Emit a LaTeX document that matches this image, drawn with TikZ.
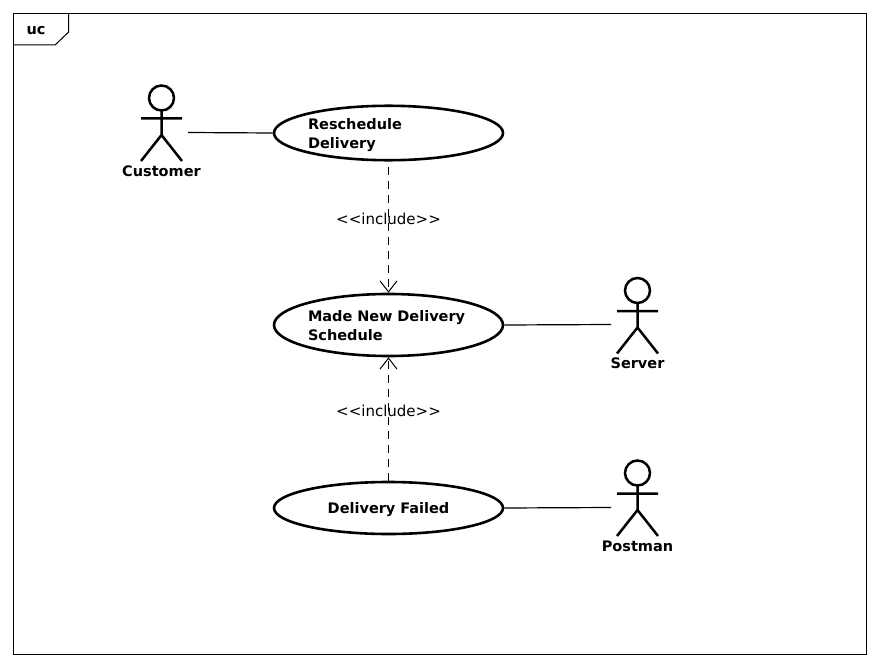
\documentclass[tikz,border=0pt]{standalone}
\usepackage{fontspec}
\setmainfont{DejaVu Sans}
\usetikzlibrary{shapes, arrows.meta, positioning}

\tikzset{
  usecase/.style={draw, ellipse, line width=2.6pt, inner sep=0pt, minimum width=229pt, text width=161pt, align=left, font=\fontsize{14.5}{19}\selectfont\bfseries, execute at begin node=\rule{0pt}{15.5pt}, execute at end node=\rule[-4pt]{0pt}{4pt}},
  actorlabel/.style={inner sep=0pt, font=\fontsize{14.5}{17}\selectfont\bfseries},
  includeline/.style={draw, line width=1pt, dash pattern=on 8pt off 6pt, -{Straight Barb[length=11pt,width=17pt,line width=1pt]}},
  assoc/.style={draw, line width=1.2pt},
  includelabel/.style={inner sep=0pt, font=\fontsize{15}{17}\selectfont},
  actor/.pic={
    \draw[line width=2.5pt] (0,0) circle (12.5);
    \draw[line width=2.5pt] (0,12.5) -- (0,37) (-20.5,20.5) -- (20.5,20.5) (-20.5,63) -- (0,37) -- (20.5,63);
    \node[actorlabel] (-label) at (0,73) {#1};
  }
}

\begin{document}
\begin{tikzpicture}[x=1pt, y=-1pt]
  \useasboundingbox (0,0) rectangle (880,666);

  \node[draw, line width=1pt, minimum width=852.6pt, minimum height=640.6pt, inner sep=0pt] (frame) at (440,334) {};
  \node[inner sep=0pt, font=\fontsize{14.5}{17}\selectfont\bfseries] (uclabel) at (36,31) {uc};
  \coordinate (tabtop) at (68.7,13.7);
  \coordinate (tableft) at (13.7,45);
  \draw[line width=1pt] (tabtop) -- (68.7,32) -- (55,45) -- (tableft);

  \pic (customer) at (161.5,98) {actor=Customer};
  \pic (server) at (637.5,290.5) {actor=Server};
  \pic (postman) at (637.5,473) {actor=Postman};

  \node[usecase, minimum height=54pt] (reschedule) at (388.5,133) {Reschedule\\Delivery};
  \node[usecase, minimum height=62pt] (schedule) at (388.5,325) {Made New Delivery\\Schedule};
  \node[usecase, minimum height=52pt, align=center] (failed) at (388.5,508) {Delivery Failed};

  \coordinate (customerport) at (188,132.5);
  \coordinate (serverport) at (611,324.5);
  \coordinate (postmanport) at (611,507.5);
  \coordinate (rescheduleport) at (388.5,167);

  \draw[assoc] (customerport) -- (reschedule.west);
  \draw[assoc] (schedule.east) -- (serverport);
  \draw[assoc] (failed.east) -- (postmanport);

  \draw[includeline] (rescheduleport) -- (schedule.north);
  \draw[includeline] (failed.north) -- (schedule.south);

  \node[includelabel] (includeone) at (388.5,219) {<{}<include>{}>};
  \node[includelabel] (includetwo) at (388.5,411) {<{}<include>{}>};
\end{tikzpicture}
\end{document}
